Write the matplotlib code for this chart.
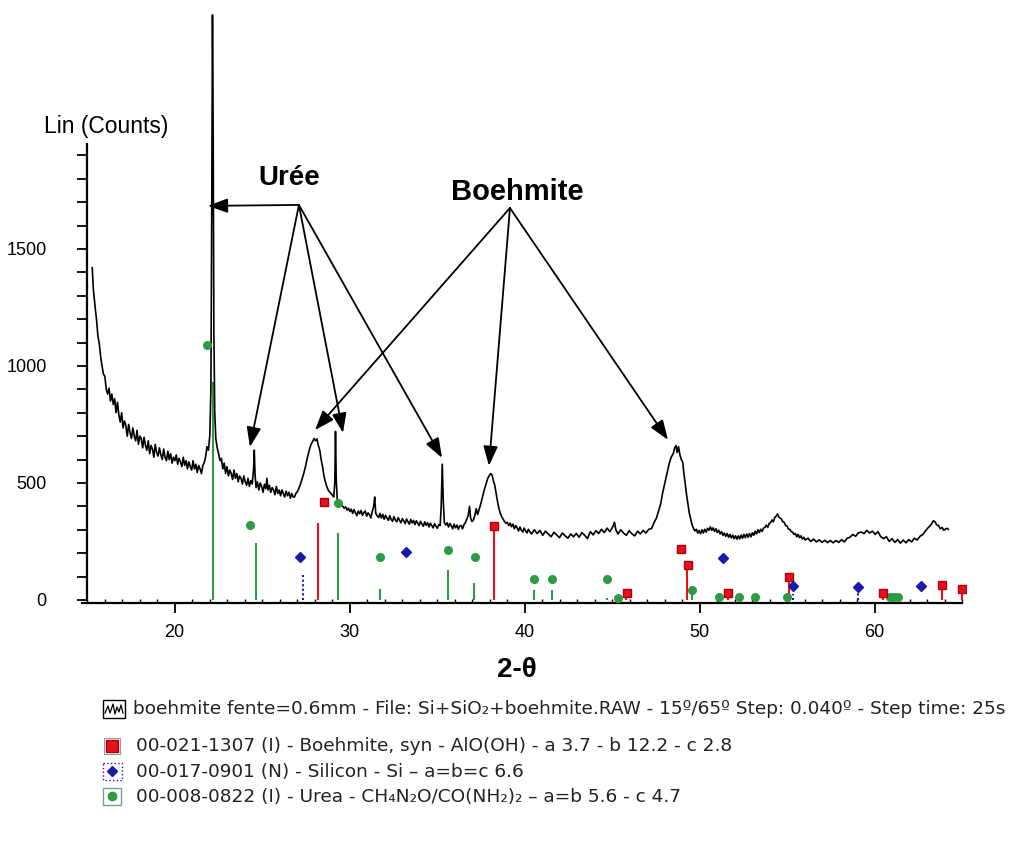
import matplotlib
matplotlib.use("Agg")
import matplotlib.pyplot as plt
from matplotlib.ticker import MultipleLocator, FixedLocator
from matplotlib.patches import Rectangle

# -------------------------------
# scan (2-theta in degrees, counts)
# -------------------------------
scan_2theta = [
    15.30, 15.36, 15.42, 15.48, 15.55, 15.62, 15.70, 15.78, 15.86, 15.94,
    16.02, 16.10, 16.18, 16.26, 16.34, 16.42, 16.50, 16.58, 16.66, 16.74,
    16.82, 16.90, 16.98, 17.06, 17.14, 17.22, 17.30, 17.38, 17.46, 17.54,
    17.62, 17.70, 17.78, 17.86, 17.94, 18.02, 18.10, 18.18, 18.26, 18.34,
    18.42, 18.50, 18.58, 18.66, 18.74, 18.82, 18.90, 18.98, 19.06, 19.14,
    19.22, 19.30, 19.38, 19.46, 19.54, 19.62, 19.70, 19.78, 19.86, 19.94,
    20.02, 20.10, 20.18, 20.26, 20.34, 20.42, 20.50, 20.58, 20.66, 20.74,
    20.82, 20.90, 20.98, 21.06, 21.14, 21.22, 21.30, 21.38, 21.46, 21.54,
    21.62, 21.70, 21.78, 21.86, 21.94, 22.02, 22.08, 22.13, 22.17, 22.21,
    22.25, 22.30, 22.36, 22.44, 22.52, 22.60, 22.68, 22.76, 22.84, 22.92,
    23.00, 23.08, 23.16, 23.24, 23.32, 23.40, 23.48, 23.56, 23.64, 23.72,
    23.80, 23.88, 23.96, 24.04, 24.12, 24.20, 24.28, 24.36, 24.44, 24.52,
    24.56, 24.60, 24.66, 24.74, 24.82, 24.90, 24.98, 25.06, 25.14, 25.22,
    25.28, 25.34, 25.42, 25.50, 25.58, 25.66, 25.74, 25.82, 25.90, 25.98,
    26.06, 26.14, 26.22, 26.30, 26.38, 26.46, 26.54, 26.62, 26.70, 26.78,
    26.86, 26.94, 27.02, 27.10, 27.20, 27.30, 27.40, 27.50, 27.60, 27.70,
    27.80, 27.90, 27.98, 28.06, 28.14, 28.22, 28.30, 28.38, 28.46, 28.54,
    28.62, 28.70, 28.78, 28.86, 28.94, 29.02, 29.10, 29.16, 29.20, 29.24,
    29.30, 29.38, 29.46, 29.54, 29.62, 29.70, 29.78, 29.86, 29.94, 30.02,
    30.10, 30.18, 30.26, 30.34, 30.42, 30.50, 30.58, 30.66, 30.74, 30.82,
    30.90, 30.98, 31.06, 31.14, 31.22, 31.30, 31.38, 31.44, 31.50, 31.58,
    31.66, 31.74, 31.82, 31.90, 31.98, 32.06, 32.14, 32.22, 32.30, 32.38,
    32.46, 32.54, 32.62, 32.70, 32.78, 32.86, 32.94, 33.02, 33.10, 33.18,
    33.26, 33.34, 33.42, 33.50, 33.58, 33.66, 33.74, 33.82, 33.90, 33.98,
    34.06, 34.14, 34.22, 34.30, 34.38, 34.46, 34.54, 34.62, 34.70, 34.78,
    34.86, 34.94, 35.02, 35.10, 35.18, 35.24, 35.30, 35.36, 35.42, 35.50,
    35.58, 35.66, 35.74, 35.82, 35.90, 35.98, 36.06, 36.14, 36.22, 36.30,
    36.38, 36.46, 36.54, 36.62, 36.70, 36.78, 36.86, 36.92, 37.00, 37.08,
    37.16, 37.24, 37.32, 37.40, 37.50, 37.60, 37.70, 37.80, 37.90, 37.98,
    38.06, 38.14, 38.22, 38.30, 38.38, 38.46, 38.54, 38.62, 38.70, 38.78,
    38.86, 38.94, 39.02, 39.10, 39.18, 39.26, 39.34, 39.42, 39.50, 39.58,
    39.66, 39.74, 39.82, 39.90, 39.98, 40.06, 40.14, 40.22, 40.30, 40.40,
    40.56, 40.72, 40.88, 41.04, 41.20, 41.36, 41.52, 41.68, 41.84, 42.00,
    42.16, 42.32, 42.48, 42.64, 42.80, 42.96, 43.12, 43.28, 43.44, 43.60,
    43.76, 43.92, 44.08, 44.24, 44.40, 44.56, 44.72, 44.88, 45.04, 45.14,
    45.22, 45.34, 45.50, 45.66, 45.82, 45.98, 46.14, 46.30, 46.46, 46.62,
    46.78, 46.94, 47.10, 47.26, 47.40, 47.54, 47.66, 47.78, 47.90, 48.02,
    48.14, 48.26, 48.38, 48.50, 48.58, 48.66, 48.72, 48.80, 48.88, 48.96,
    49.04, 49.10, 49.18, 49.26, 49.34, 49.42, 49.50, 49.58, 49.66, 49.74,
    49.82, 49.90, 49.98, 50.06, 50.14, 50.22, 50.30, 50.38, 50.46, 50.54,
    50.62, 50.70, 50.78, 50.86, 50.94, 51.02, 51.10, 51.18, 51.26, 51.34,
    51.42, 51.50, 51.58, 51.66, 51.74, 51.82, 51.90, 51.98, 52.06, 52.14,
    52.22, 52.30, 52.38, 52.46, 52.54, 52.62, 52.70, 52.78, 52.86, 52.94,
    53.02, 53.10, 53.18, 53.26, 53.34, 53.42, 53.50, 53.58, 53.66, 53.74,
    53.82, 53.90, 53.98, 54.06, 54.14, 54.22, 54.30, 54.38, 54.46, 54.52,
    54.60, 54.68, 54.76, 54.84, 54.92, 55.00, 55.08, 55.16, 55.24, 55.32,
    55.40, 55.48, 55.56, 55.64, 55.72, 55.80, 55.88, 55.96, 56.04, 56.20,
    56.36, 56.52, 56.68, 56.84, 57.00, 57.16, 57.32, 57.48, 57.64, 57.80,
    57.96, 58.12, 58.28, 58.44, 58.60, 58.76, 58.92, 59.08, 59.24, 59.40,
    59.56, 59.72, 59.88, 60.04, 60.20, 60.36, 60.52, 60.68, 60.84, 61.00,
    61.16, 61.32, 61.48, 61.64, 61.80, 61.96, 62.12, 62.28, 62.44, 62.60,
    62.76, 62.92, 63.08, 63.24, 63.36, 63.46, 63.56, 63.66, 63.76, 63.86,
    63.96, 64.06, 64.16, 64.22,
]
scan_counts = [
    1420, 1330, 1285, 1240, 1195, 1130, 1095, 1040, 1000, 965,
    955, 900, 880, 905, 850, 880, 835, 860, 800, 845,
    790, 760, 800, 735, 765, 745, 700, 750, 715, 690,
    735, 700, 680, 725, 665, 700, 690, 650, 695, 660,
    640, 680, 625, 660, 645, 610, 665, 630, 615, 650,
    620, 600, 645, 610, 595, 635, 600, 625, 585, 610,
    595, 620, 580, 605, 590, 570, 610, 575, 595, 560,
    590, 570, 555, 595, 560, 580, 545, 575, 560, 540,
    574, 588, 612, 655, 640, 705, 900, 1700, 2500, 2000,
    1150, 800, 690, 650, 625, 595, 605, 560, 585, 540,
    570, 530, 555, 540, 515, 555, 520, 540, 505, 530,
    520, 495, 530, 505, 490, 520, 485, 510, 495, 560,
    640, 540, 480, 505, 470, 500, 485, 460, 495, 475,
    520, 470, 490, 460, 480, 470, 450, 485, 455, 470,
    445, 470, 455, 440, 465, 445, 460, 435, 455, 440,
    440, 456, 462, 476, 495, 520, 545, 575, 610, 640,
    665, 678, 690, 680, 688, 660, 640, 600, 570, 530,
    505, 485, 470, 462, 455, 448, 440, 500, 720, 520,
    430, 420, 412, 404, 400, 392, 398, 384, 392, 378,
    388, 370, 386, 372, 360, 380, 368, 382, 362, 374,
    380, 358, 372, 365, 350, 378, 400, 440, 370, 360,
    352, 370, 350, 366, 345, 362, 350, 340, 360, 344,
    336, 356, 342, 334, 352, 340, 330, 348, 338, 326,
    346, 334, 324, 344, 329, 340, 322, 338, 328, 318,
    336, 324, 315, 334, 319, 330, 312, 328, 318, 308,
    326, 315, 306, 322, 318, 400, 580, 420, 330, 320,
    330, 312, 327, 316, 304, 324, 308, 320, 302, 316,
    318, 304, 322, 330, 345, 360, 400, 350, 335, 342,
    360, 390, 365, 385, 410, 440, 470, 495, 520, 530,
    540, 535, 510, 490, 455, 420, 390, 370, 355, 345,
    335, 328, 332, 318, 328, 313, 324, 304, 318, 308,
    295, 312, 298, 290, 307, 296, 286, 302, 292, 282,
    300, 284, 297, 276, 294, 282, 270, 289, 278, 266,
    286, 274, 264, 282, 270, 284, 268, 288, 276, 262,
    292, 278, 296, 284, 302, 288, 307, 292, 312, 332,
    300, 282, 300, 286, 276, 296, 282, 274, 294, 282,
    297, 286, 302, 305, 330, 350, 380, 410, 460, 500,
    540, 580, 610, 625, 650, 660, 630, 655, 620, 600,
    590, 545, 500, 450, 410, 370, 345, 320, 305, 295,
    302, 286, 297, 283, 300, 286, 302, 290, 306, 298,
    312, 298, 308, 293, 304, 288, 298, 282, 292, 276,
    286, 272, 284, 268, 280, 265, 277, 262, 274, 260,
    274, 261, 277, 264, 280, 266, 282, 268, 284, 270,
    287, 276, 294, 282, 300, 288, 302, 293, 307, 310,
    320, 310, 327, 330, 342, 334, 352, 358, 368, 355,
    350, 346, 334, 332, 318, 316, 303, 302, 292, 290,
    280, 284, 270, 280, 266, 274, 260, 268, 256, 264,
    250, 260, 248, 257, 246, 255, 245, 254, 244, 254,
    246, 258, 248, 264, 268, 280, 272, 287, 290, 284,
    297, 286, 294, 280, 292, 270, 262, 270, 250, 262,
    246, 258, 243, 256, 244, 258, 248, 264, 256, 272,
    280, 296, 310, 322, 338, 334, 320, 318, 304, 310,
    298, 303, 306, 302,
]

# -------------------------------
# reference patterns (sticks and their symbols)
# -------------------------------
boehmite_pos = [28.18, 38.27, 45.80, 49.30, 51.60, 55.13, 60.46, 63.83, 64.98]
boehmite_int = [328, 313, 25, 150, 25, 100, 25, 61, 46]
boehmite_mark_pos = [28.56, 38.27, 45.84, 48.95, 49.32, 51.60, 55.13, 60.48, 63.83, 64.98]
boehmite_mark_int = [420, 318, 29, 217, 150, 29, 100, 29, 62, 48]

silicon_pos = [27.36, 55.36, 59.08]
silicon_int = [107, 25, 30]
silicon_mark_pos = [27.17, 33.23, 51.36, 55.36, 59.08, 62.64]
silicon_mark_int = [185, 206, 178, 60, 54, 60]

urea_pos = [22.18, 24.64, 29.32, 31.74, 35.61, 37.11, 40.56, 41.59, 44.70,
            45.36, 49.55, 51.11, 52.26, 53.17, 54.98, 60.90, 61.12, 61.32]
urea_int = [930, 244, 286, 47, 128, 71, 43, 43, 8, 6, 32, 8, 8, 8, 8, 8, 8, 8]
urea_mark_pos = [21.86, 24.31, 29.36, 31.74, 35.61, 37.17, 40.56, 41.59, 44.70,
                 45.36, 49.55, 51.11, 52.26, 53.17, 54.98, 60.90, 61.12, 61.32]
urea_mark_int = [1090, 320, 413, 185, 214, 185, 88, 88, 88,
                 10, 43, 14, 14, 14, 14, 14, 14, 14]

# annotations: label position, arrow tips (2-theta, counts)
uree_label = (26.55, 1805)
uree_origin = (27.11, 1688)
uree_tips = [(21.91, 1684), (24.31, 654), (29.63, 714), (35.29, 607)]
boehmite_label = (39.57, 1745)
boehmite_origin = (39.17, 1675)
boehmite_tips = [(28.03, 726), (37.97, 573), (48.20, 684)]

legend_texts = [
    "boehmite fente=0.6mm - File: Si+SiO\u2082+boehmite.RAW - 15\u00ba/65\u00ba Step: 0.040\u00ba - Step time: 25s",
    "00-021-1307 (I) - Boehmite, syn - AlO(OH) - a 3.7 - b 12.2 - c 2.8",
    "00-017-0901 (N) - Silicon - Si \u2013 a=b=c 6.6",
    "00-008-0822 (I) - Urea - CH\u2084N\u2082O/CO(NH\u2082)\u2082 \u2013 a=b 5.6 - c 4.7",
]

RED = "#e8101c"
BLUE = "#1a1aa8"
GREEN = "#2f9a45"
W, H = 1019, 857

plt.rcParams['font.family'] = ['Liberation Sans', 'DejaVu Sans']

fig = plt.figure(figsize=(W / 100, H / 100), dpi=100)
ax = fig.add_axes([81.75 / W, 254 / H, 883.75 / W, 593 / H])

# sticks
ax.vlines(urea_pos, 0, urea_int, color=GREEN, lw=1.5, zorder=2)
ax.vlines(boehmite_pos, 0, boehmite_int, color=RED, lw=1.5, zorder=2)
ax.vlines(silicon_pos, 0, silicon_int, color=BLUE, lw=1.5, linestyles=(0, (1, 1.2)), zorder=2)

# scan
ax.plot(scan_2theta, scan_counts, color="black", lw=1.2, zorder=3)

# symbols
ax.plot(urea_mark_pos, urea_mark_int, "o", color=GREEN, ms=5.5, mec=GREEN, zorder=4)
ax.plot(boehmite_mark_pos, boehmite_mark_int, "s", color=RED, ms=6, mec="#b00010", zorder=4)
ax.plot(silicon_mark_pos, silicon_mark_int, "D", color=BLUE, ms=5.5, mec=BLUE, zorder=4)

ax.set_xlim(14.7, 65.2)
ax.set_ylim(-13, 2521)

for side in ["top", "right"]:
    ax.spines[side].set_visible(False)
ax.spines["left"].set_position(("data", 15))
ax.spines["left"].set_bounds(0, 1950)
ax.spines["bottom"].set_bounds(14.7, 65.0)
ax.spines["left"].set_linewidth(1.6)
ax.spines["bottom"].set_linewidth(1.6)

ax.xaxis.set_major_locator(MultipleLocator(10))
ax.xaxis.set_minor_locator(MultipleLocator(1))
ax.set_yticks([0, 500, 1000, 1500])
ax.yaxis.set_minor_locator(FixedLocator([v for v in range(100, 2000, 100) if v % 500]))
ax.tick_params(axis="x", which="major", direction="out", length=7, width=1.3,
               labelsize=13, pad=8)
ax.tick_params(axis="x", which="minor", direction="in", length=3, width=1.0)
ax.tick_params(axis="y", which="both", direction="out", length=7, width=1.3)
ax.tick_params(axis="y", which="major", labelsize=13, pad=22)

# annotations
ax.text(*uree_label, "Urée", fontsize=20, fontweight="bold", ha="center", va="center")
ax.text(*boehmite_label, "Boehmite", fontsize=21, fontweight="bold", ha="center", va="center")
arrow = dict(arrowstyle="-|>,head_length=0.6,head_width=0.22", color="black",
             lw=1.3, shrinkA=0, shrinkB=0, mutation_scale=20)
for tip in uree_tips:
    ax.annotate("", xy=tip, xytext=uree_origin, arrowprops=arrow, zorder=5)
for tip in boehmite_tips:
    ax.annotate("", xy=tip, xytext=boehmite_origin, arrowprops=arrow, zorder=5)

fig.text(106 / W, 1 - 127 / H, "Lin (Counts)", fontsize=16.5, ha="center", va="center")
fig.text(517 / W, 1 - 670 / H, "2-\u03b8", fontsize=20, fontweight="bold",
         ha="center", va="center")

# legend drawn in pixel space below the plot
lax = fig.add_axes([0, 0, 1, 1])
lax.set_xlim(0, W)
lax.set_ylim(H, 0)
lax.axis("off")

lax.add_patch(Rectangle((103, 700), 22, 18, fill=False, ec="black", lw=1))
lax.plot([105, 108, 110, 113, 115, 117, 119, 121, 123],
         [713, 706, 713, 704, 714, 707, 712, 705, 713], color="black", lw=0.9)
lax.add_patch(Rectangle((104, 738), 16, 16, fill=False, ec="#999999", lw=0.8))
lax.plot([112], [746], "s", color=RED, ms=8, mec="#a00010")
lax.add_patch(Rectangle((103, 763), 19, 17, fill=False, ec=BLUE, lw=1, ls=":"))
lax.plot([112.5], [771], "D", color=BLUE, ms=5.5)
lax.add_patch(Rectangle((103, 788), 18, 17, fill=False, ec="#7aa08a", lw=1))
lax.plot([112], [796], "o", color=GREEN, ms=6)

legend_y = [709, 746, 772, 797]
legend_x = [133, 136, 136, 136]
for tx, ty, txt in zip(legend_x, legend_y, legend_texts):
    lax.text(tx, ty, txt, fontsize=13.3, family=["DejaVu Sans"], color="#222222",
             ha="left", va="center")

fig.savefig("out.png", dpi=100)
